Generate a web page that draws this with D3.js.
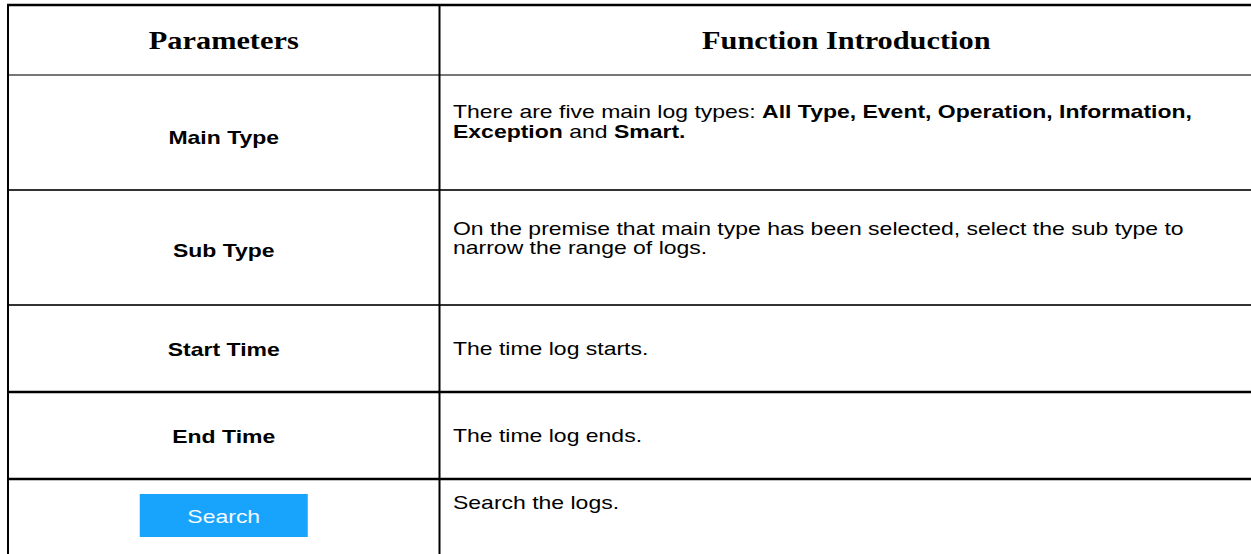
<!DOCTYPE html>
<html><head><meta charset="utf-8">
<script src="https://cdn.jsdelivr.net/npm/d3@7"></script>
<style>html,body{margin:0;padding:0;background:#fff;overflow:hidden}</style>
</head><body>
<svg id="c" width="1251" height="554"></svg>
<script>
// ---- data ----
const headers = ["Parameters", "Function Introduction"];
const params = ["Main Type", "Sub Type", "Start Time", "End Time", "Search"];
const descriptions = [
  [[{t:"There are five main log types: ",b:false},{t:"All Type, Event, Operation, Information,",b:true}],
   [{t:"Exception",b:true},{t:" and ",b:false},{t:"Smart.",b:true}]],
  [[{t:"On the premise that main type has been selected, select the sub type to",b:false}],
   [{t:"narrow the range of logs.",b:false}]],
  [[{t:"The time log starts.",b:false}]],
  [[{t:"The time log ends.",b:false}]],
  [[{t:"Search the logs.",b:false}]]
];

// ---- layout ----
const svg = d3.select("#c");
const X0 = 8, X1 = 439.5, X2 = 1253;
const rowEdges = [5, 75, 190, 305, 392, 479, 570];
const lineColors = ["#000", "#777", "#333", "#333", "#000", "#000"];
const lineW = [2.5, 2, 2, 2, 2.5, 2.5];
const FS = 19, sx = 1.21;        // body font & horizontal stretch
const HFS = 26, hsx = 1.167;     // header font & stretch
const labelCY = [137, 250, 349, 436];
const descY = [[118, 138], [235, 254], [355], [442], [509]];

const y = d3.scaleOrdinal().domain(d3.range(rowEdges.length)).range(rowEdges);
const sans = "'Liberation Sans',Arial,sans-serif";

// header texts
[[headers[0], (X0 + X1) / 2], [headers[1], (X1 + X2) / 2]].forEach(([t, cx]) => {
  svg.append("text")
    .attr("transform", `translate(${cx},${(y(0) + y(1)) / 2 + 8.5}) scale(${hsx},1)`)
    .attr("text-anchor", "middle")
    .attr("font-family", "'Liberation Serif','Times New Roman',serif")
    .attr("font-weight", "bold").attr("font-size", HFS)
    .attr("fill", "#000").text(t);
});

// param labels
params.forEach((p, i) => {
  const cx = (X0 + X1) / 2;
  if (p === "Search") {
    const bw = 168, bh = 43, by = 494;
    svg.append("rect").attr("x", cx - bw / 2).attr("y", by).attr("width", bw).attr("height", bh)
      .attr("fill", "#18a3fd");
    svg.append("text")
      .attr("transform", `translate(${cx},${by + bh / 2 + 7}) scale(${sx},1)`)
      .attr("text-anchor", "middle")
      .attr("font-family", sans)
      .attr("font-size", FS).attr("fill", "#f4faff").text(p);
  } else {
    svg.append("text")
      .attr("transform", `translate(${cx},${labelCY[i] + 7}) scale(${sx},1)`)
      .attr("text-anchor", "middle")
      .attr("font-family", sans)
      .attr("font-weight", "bold").attr("font-size", FS)
      .attr("fill", "#000").text(p);
  }
});

// descriptions
descriptions.forEach((lines, i) => {
  lines.forEach((segs, j) => {
    const tx = svg.append("text")
      .attr("transform", `translate(${X1 + 13.5},${descY[i][j]}) scale(${sx},1)`)
      .attr("font-family", sans)
      .attr("font-size", FS).attr("fill", "#000");
    segs.forEach(s => tx.append("tspan").attr("font-weight", s.b ? "bold" : "normal").text(s.t));
  });
});

// grid lines
rowEdges.slice(0, 6).forEach((ry, i) => {
  svg.append("line").attr("x1", X0 - 1).attr("x2", X2).attr("y1", ry).attr("y2", ry)
    .attr("stroke", lineColors[i]).attr("stroke-width", lineW[i]);
});
[X0, X1].forEach(cx => {
  svg.append("line").attr("x1", cx).attr("x2", cx).attr("y1", y(0)).attr("y2", 554)
    .attr("stroke", "#000").attr("stroke-width", 2);
});
</script>
</body></html>
